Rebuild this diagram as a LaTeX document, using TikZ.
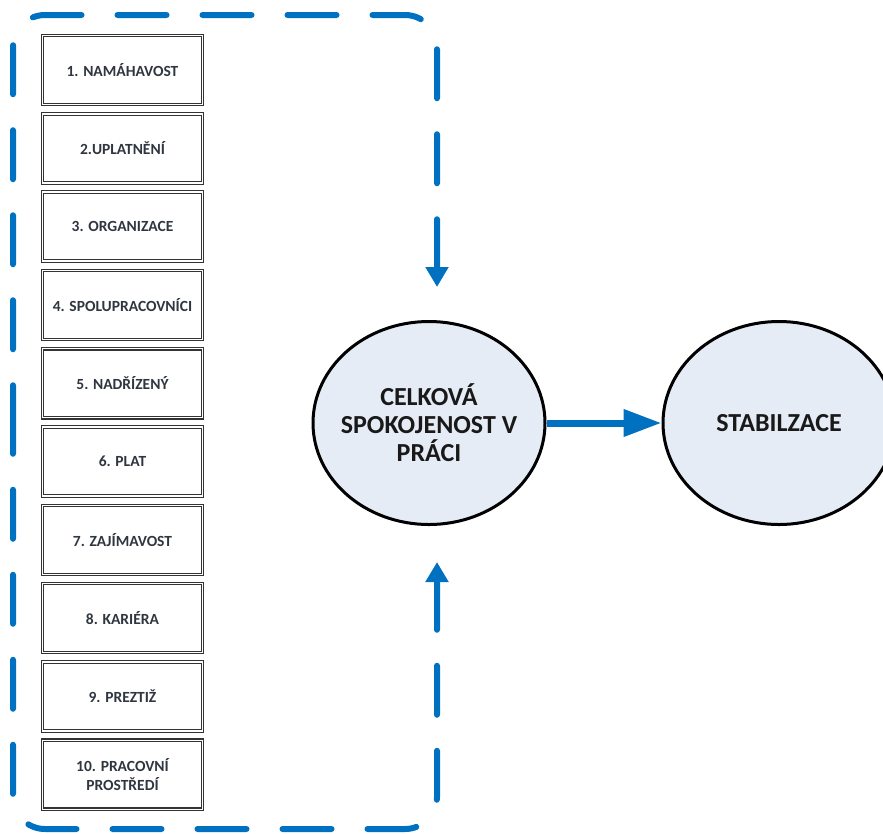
\documentclass[tikz,border=0pt]{standalone}
\usepackage{fontspec}
\setmainfont{Carlito}
\usepackage{xcolor}
\usetikzlibrary{arrows.meta,shapes.geometric}

\definecolor{ramec}{RGB}{0,112,192}
\definecolor{vypln}{RGB}{230,236,246}
\definecolor{pismo}{RGB}{48,54,64}

\begin{document}
\begin{tikzpicture}[x=1pt,y=-1pt,
	faktor/.style={draw=black!80,double=white,double distance=1.4pt,line width=1.1pt,
		minimum width=160pt,minimum height=69pt,inner sep=2pt,align=center,
		font=\fontsize{15.5}{18.5}\selectfont\bfseries,text=pismo},
	kruh/.style={ellipse,draw=black,line width=3pt,fill=vypln,minimum width=232pt,
		minimum height=203pt,inner xsep=-30pt,inner ysep=0pt,align=center,
		font=\fontsize{26}{28}\selectfont\bfseries,text=black!90},
	ramecek/.style={ramec,line width=6pt,line cap=round,dash pattern=on 49pt off 36pt,
		rounded corners=32pt,{Triangle[length=20pt,width=22pt]}-},
	sipka/.style={ramec,line width=7pt,-{Triangle[length=38pt,width=26pt]}}]
	\useasboundingbox (0,0) rectangle (883,833);
	\clip (0,0) rectangle (883,833);

	% faktory spokojenosti
	\foreach \t [count=\i] in {1. NAMÁHAVOST,2.UPLATNĚNÍ,3. ORGANIZACE,4. SPOLUPRACOVNÍCI,
		5. NADŘÍZENÝ,6. PLAT,7. ZAJÍMAVOST,8. KARIÉRA,9. PREZTIŽ,{10. PRACOVNÍ\\PROSTŘEDÍ}}
		\node[faktor] (f\i) at (122.5,{70+78.3*(\i-1)}) {\t};

	\node[kruh] (spok) at (429,423) {CELKOVÁ\\SPOKOJENOST V\\PRÁCI};
	\node[kruh] (stab) at (779,423) {STABILZACE};

	% prerusovany ramecek se sipkami ke spokojenosti
	\coordinate (vstup) at (437,287);
	\coordinate (vystup) at (437,562);
	\draw[ramecek] (vstup) -- (437,15) -- (13,15) -- (13,422);
	\draw[ramecek] (vystup) -- (437,829) -- (13,829) -- (13,422);

	\draw[sipka] (spok) -- (stab);
\end{tikzpicture}
\end{document}
